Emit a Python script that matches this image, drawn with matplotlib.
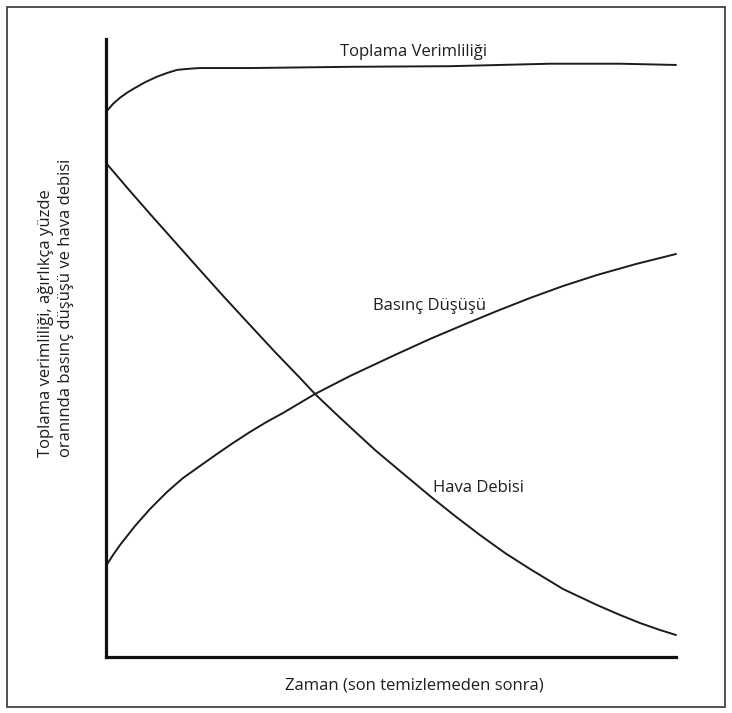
import matplotlib
matplotlib.use("Agg")
import matplotlib.pyplot as plt
from matplotlib.patches import Rectangle

plt.rcParams["font.family"] = ["Open Sans", "DejaVu Sans"]

# curves (x: time 0..100, y: 0..100, arbitrary units)
x_verim = [0, 1.23, 2.46, 3.68, 4.74, 6.84, 8.95, 10.7, 12.46, 14.74, 16.49, 25.3, 42.8, 60.4, 77.9, 90.2, 100]
y_verim = [88.2, 89.5, 90.5, 91.3, 91.9, 93.0, 93.9, 94.5, 95.0, 95.2, 95.3, 95.3, 95.5, 95.6, 96.0, 96.0, 95.8]

x_debi = [0, 4.21, 7.72, 12.11, 16.49, 20.88, 25.26, 29.65, 34.04, 36.67, 40.18, 42.81, 47.19,
          51.58, 56.84, 61.23, 65.61, 70.0, 74.39, 80.18, 86.14, 90.18, 93.68, 97.19, 100]
y_debi = [79.94, 75.4, 71.7, 67.15, 62.6, 58.09, 53.72, 49.35, 45.15, 42.56, 39.48, 37.22, 33.5,
          30.1, 26.05, 22.82, 19.74, 16.83, 14.24, 11.0, 8.41, 6.8, 5.5, 4.37, 3.56]

x_basinc = [0, 1.23, 2.46, 5.09, 7.72, 10.7, 13.51, 16.49, 19.47, 22.28, 25.26, 28.1, 31.05, 36.67,
            42.81, 51.05, 56.84, 62.63, 68.6, 74.39, 80.18, 86.14, 92.98, 100]
y_basinc = [14.72, 16.5, 18.12, 21.2, 23.95, 26.7, 28.96, 30.91, 32.85, 34.63, 36.41, 38.0, 39.48, 42.56,
            45.47, 49.03, 51.46, 53.72, 55.99, 58.09, 60.03, 61.81, 63.59, 65.21]

labels = ["Toplama Verimliliği", "Basınç Düşüşü", "Hava Debisi"]
xlabel = "Zaman (son temizlemeden sonra)"
ylabel = "Toplama verimliliği, ağırlıkça yüzde\noranında basınç düşüşü ve hava debisi"

W, H = 732, 713
fig = plt.figure(figsize=(W / 100, H / 100), dpi=100)
ax = fig.add_axes([106 / W, 1 - 657 / H, (676 - 106) / W, (657 - 39) / H])
lc = "#1c1c1c"
for xs, ys in [(x_verim, y_verim), (x_debi, y_debi), (x_basinc, y_basinc)]:
    ax.plot(xs, ys, color=lc, lw=1.4, solid_capstyle="round", solid_joinstyle="round", clip_on=False)
ax.set_xlim(0, 100); ax.set_ylim(0, 100)
for s in ["top", "right"]:
    ax.spines[s].set_visible(False)
for s in ["left", "bottom"]:
    ax.spines[s].set_linewidth(2.3); ax.spines[s].set_color("#111111")
ax.set_xticks([]); ax.set_yticks([])

fs = 12
tc = "#1e1e1e"
ax.text(53.9, 97.9, labels[0], ha="center", va="center", fontsize=fs, color=tc)
ax.text(56.8, 56.8, labels[1], ha="center", va="center", fontsize=fs, color=tc)
ax.text(65.3, 27.3, labels[2], ha="center", va="center", fontsize=fs, color=tc)

fig.text(414 / W, 1 - 685 / H, xlabel, ha="center", va="center", fontsize=fs, color=tc)
fig.text(56 / W, 1 - 457 / H, ylabel, rotation=90, ha="center", va="bottom",
         multialignment="left", linespacing=1.3, fontsize=fs, color=tc)

# thin frame round the whole picture
fig.add_artist(Rectangle((7 / W, 1 - 707 / H), 718 / W, 700 / H, transform=fig.transFigure,
                         fill=False, lw=1.2, edgecolor="#333333"))

fig.savefig("out.png", dpi=100)
